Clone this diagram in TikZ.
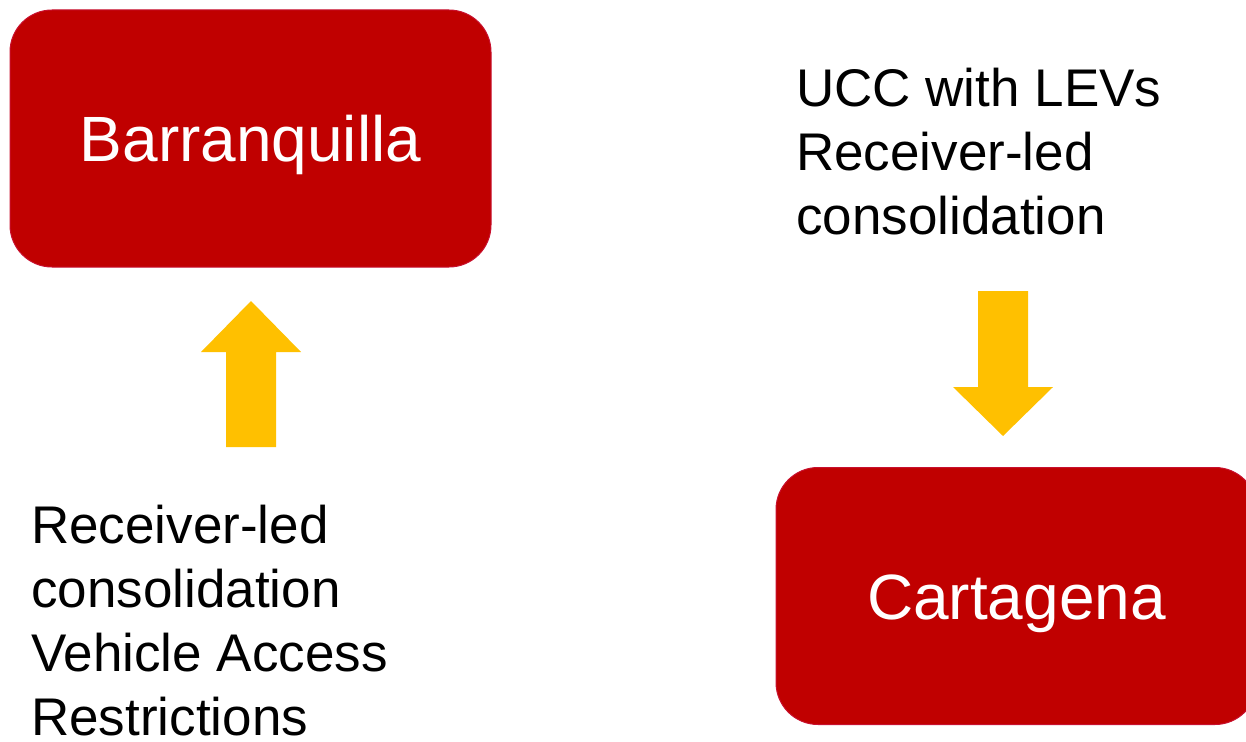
\documentclass[tikz,border=0pt]{standalone}
\usepackage{fontspec}
\setmainfont{Liberation Sans}
\definecolor{boxred}{HTML}{C00000}
\definecolor{boxedge}{HTML}{C8102E}
\definecolor{arrowgold}{HTML}{FFC000}
\begin{document}
\begin{tikzpicture}[x=1pt,y=-1pt,
  citybox/.style={fill=boxred, draw=boxedge, line width=1pt, rounded corners=42pt,
    minimum width=481pt, minimum height=257pt, inner sep=0pt, text=white,
    text height=46pt, text depth=0pt,
    font={\fontsize{64}{76}\selectfont}},
  note/.style={inner sep=0pt, align=left, anchor=north west, text=black,
    font={\fontsize{53}{64}\selectfont}},
  blockarrow/.style={fill=arrowgold, draw=none}]
\useasboundingbox (0,0) rectangle (1246,741);
\begin{scope}
\clip (0,0) rectangle (1246,741);
\node[citybox] (barr) at (250.5,138.5) {Barranquilla};
\node[citybox] (cart) at (1016.5,596) {Cartagena};
\end{scope}
\node[note] (leftnote) at (31,505) {Receiver-led\\consolidation\\Vehicle Access\\Restrictions};
\node[note] (rightnote) at (796,68) {UCC with LEVs\\Receiver-led\\consolidation};
% up arrow
\coordinate (uptip) at (251,301);
\fill[blockarrow] (uptip) -- (301,352) -- (276,352) -- (276,447) -- (226,447) -- (226,352) -- (201,352) -- cycle;
% down arrow
\coordinate (downtip) at (1003,436);
\fill[blockarrow] (downtip) -- (1053,387) -- (1028,387) -- (1028,291) -- (978,291) -- (978,387) -- (953,387) -- cycle;
\end{tikzpicture}
\end{document}
